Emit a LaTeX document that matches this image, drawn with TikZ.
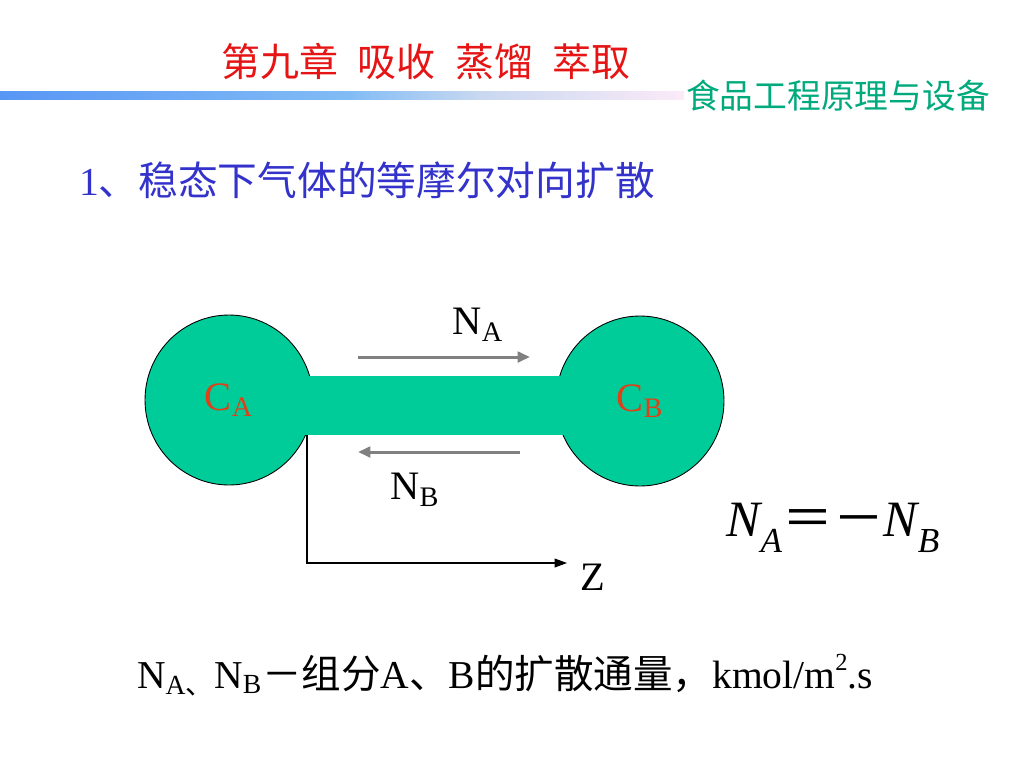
\documentclass[tikz,border=0pt]{standalone}
\usepackage{fontspec}
\setmainfont{Liberation Serif}
\newfontfamily\cjk{Noto Sans CJK SC}
\usetikzlibrary{arrows.meta,shapes.geometric}
\definecolor{titlered}{RGB}{230,20,20}
\definecolor{subgreen}{RGB}{0,170,125}
\definecolor{headblue}{RGB}{51,51,204}
\definecolor{ballfill}{RGB}{0,204,153}
\definecolor{labred}{RGB}{224,64,24}
\definecolor{flowgray}{RGB}{128,128,128}
\definecolor{gradA}{RGB}{88,150,245}
\definecolor{gradB}{RGB}{130,188,245}
\definecolor{gradC}{RGB}{200,216,240}
\definecolor{gradD}{RGB}{252,234,248}
\newcommand{\lowsub}[1]{\raisebox{-0.28em}{\fontsize{0.66\dimexpr\fontdimen6\font\relax}{1em}\selectfont #1}}
\begin{document}
\begin{tikzpicture}[x=0.02cm,y=0.02cm,
  txt/.style={inner sep=0pt, outer sep=0pt},
  lbl/.style={txt, font=\fontsize{23}{27}\selectfont},
  ball/.style={ellipse, draw=black, line width=0.5pt, fill=ballfill,
    minimum width=3.36cm, minimum height=3.4cm, inner sep=0pt, outer sep=0pt,
    font=\fontsize{23}{27}\selectfont, text=labred},
  flow/.style={draw=flowgray, line width=1.7pt, -{Triangle[length=7pt,width=6pt]}},
  axis/.style={draw=black, line width=0.6pt, -{Triangle[length=7pt,width=5pt]}}
]
\useasboundingbox (0,0) rectangle (1024,-768);
\fill[white] (0,0) rectangle (1024,-768);

% header
\node[txt, text=titlered, font=\cjk\fontsize{22.2}{26}\selectfont] (title) at (426,-62)
  {第九章\hspace{0.5em}吸收\hspace{0.5em}蒸馏\hspace{0.5em}萃取};
\shade[left color=gradA, right color=gradB] (0,-91) rectangle (350,-99);
\shade[left color=gradB, right color=gradC] (349.5,-91) rectangle (480,-99);
\shade[left color=gradC, right color=gradD] (479.5,-91) rectangle (684,-99);
\node[txt, text=subgreen, font=\cjk\fontsize{19.2}{23}\selectfont] (sub) at (838,-96)
  {食品工程原理与设备};
\node[txt, anchor=west, text=headblue, font=\fontsize{22.6}{27}\selectfont] (head) at (79,-180)
  {1{\cjk 、稳态下气体的等摩尔对向扩散}};

% dumbbell
\node[ball] (ca) at (229,-400) {C\textsubscript{A}};
\node[ball] (cb) at (640,-401) {C\textsubscript{B}};
\node[txt, fill=ballfill, minimum width=5.26cm, minimum height=1.18cm, anchor=north west] (bar) at (303,-376) {};

% flux arrows
\coordinate (na1) at (358,-357);
\coordinate (na2) at (530,-357);
\coordinate (nb1) at (520,-452);
\coordinate (nb2) at (358,-452);
\draw[flow] (na1) -- (na2);
\draw[flow] (nb1) -- (nb2);
\node[lbl] (nalab) at (478,-325) {N\textsubscript{A}};
\node[lbl] (nblab) at (415,-490) {N\textsubscript{B}};

% axis
\coordinate (axtop) at (307,-435);
\coordinate (origin) at (307,-563);
\coordinate (zend) at (567,-563);
\draw[axis] (axtop) -- (origin) -- (zend);
\node[lbl] (z) at (593,-577) {Z};

% equation
\node[txt, font=\fontsize{29}{34}\selectfont] (eq) at (833,-528)
  {\itshape N\raisebox{-0.3em}{\fontsize{20}{24}\selectfont A}{\upshape\cjk ＝－}N\raisebox{-0.3em}{\fontsize{20}{24}\selectfont B}};

% bottom text
\node[txt, font=\fontsize{22.5}{27}\selectfont] (bottom) at (505,-675)
  {N\textsubscript{A{\cjk 、}}N\textsubscript{B}{\cjk －组分}A{\cjk 、}B{\cjk 的扩散通量，}kmol/m{\raisebox{0.45em}{\fontsize{14}{16}\selectfont 2}}.s};
\end{tikzpicture}
\end{document}
